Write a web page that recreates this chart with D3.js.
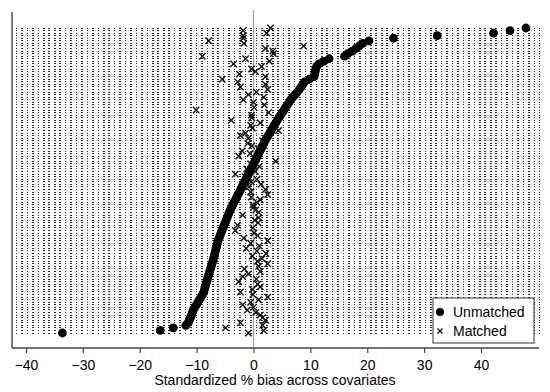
<!DOCTYPE html>
<html>
<head>
<meta charset="utf-8">
<script src="https://cdn.jsdelivr.net/npm/d3@7"></script>
<style>
  body { margin: 0; background: #fff; }
  svg { display: block; font-family: "Liberation Sans", Arial, sans-serif; }
</style>
</head>
<body>
<svg id="chart" width="550" height="392"></svg>
<script>
// standardized % bias per covariate, covariates sorted by unmatched bias (bottom -> top)
const unmatched = [
  -33.6, -16.4, -14.1, -11.9, -11.5, -11.3, -11.08, -10.9, -10.75, -10.6,
  -10.32, -10.05, -9.77, -9.51, -9.23, -8.96, -8.75, -8.62, -8.5, -8.37,
  -8.24, -8.11, -7.98, -7.84, -7.71, -7.57, -7.44, -7.3, -7.16, -7.04,
  -6.92, -6.81, -6.7, -6.58, -6.46, -6.35, -6.23, -6.07, -5.89, -5.71,
  -5.54, -5.35, -5.18, -5.0, -4.81, -4.64, -4.46, -4.28, -4.1, -3.87,
  -3.64, -3.41, -3.17, -2.95, -2.71, -2.48, -2.26, -2.02, -1.79, -1.56,
  -1.33, -1.11, -0.88, -0.66, -0.44, -0.21, 0.02, 0.24, 0.46, 0.69,
  0.91, 1.14, 1.37, 1.59, 1.81, 2.03, 2.29, 2.56, 2.83, 3.1,
  3.37, 3.63, 3.91, 4.17, 4.46, 4.76, 5.05, 5.35, 5.64, 5.94,
  6.24, 6.53, 6.92, 7.31, 7.69, 8.06, 8.37, 8.67, 8.98, 9.8,
  10.65, 10.75, 10.85, 10.93, 11.1, 11.5, 12.3, 13.3, 16.0, 16.6,
  17.4, 18.0, 18.6, 19.2, 20.3, 24.6, 32.3, 42.2, 45.1, 47.9
];
const matched = [
  -0.9, 1.8, -4.9, 1.6, -2.3, 2.1, 1.6, 1.2, 0.4, -1.1,
  0.0, -1.9, -0.5, 0.9, 2.5, -0.1, -2.3, -0.2, 1.2, 0.7,
  -2.6, 0.5, -1.9, -0.9, 1.2, -1.6, 0.9, 2.5, 0.7, 1.5,
  -0.2, 2.2, 0.6, -1.3, 1.0, -0.5, 2.5, -1.7, 0.7, 0.1,
  -3.2, -0.1, -2.8, 0.8, 0.2, 0.9, -1.9, 0.9, 0.4, 0.0,
  -0.1, 0.6, 1.2, -0.4, 2.5, -0.5, 2.1, -0.8, 1.3, -0.4,
  0.6, -1.5, -3.2, 0.3, -1.2, 1.0, -0.5, 3.9, 0.5, -2.6,
  -0.6, -2.0, 0.8, -0.3, -1.0, 1.6, -0.9, -2.3, -1.4, 4.4,
  -0.2, -0.5, 1.2, -3.9, -0.3, -0.35, 2.65, -10.1, 0.1, 1.9,
  0.0, -1.8, 1.8, -0.9, 0.5, 2.5, -2.3, 2.1, -2.8, -5.5,
  2.1, -2.5, 0.35, -0.35, 1.4, -3.5, 2.8, -1.4, -9.0, 3.5,
  3.4, 2.1, 8.8, -1.7, -7.9, -1.8, -1.8, 2.3, -1.8, 3.0
];
const xTicks = [-40, -30, -20, -10, 0, 10, 20, 30, 40];
const xTitle = "Standardized % bias across covariates";
const legendLabels = ["Unmatched", "Matched"];

const svg = d3.select("#chart");
svg.append("rect").attr("width", 550).attr("height", 392).attr("fill", "#fff");

const x = d3.scaleLinear().domain([-40, 40]).range([26, 481]);
const xMin = -42.45, xMax = 50.2;      // plot region edges
const lineMin = -41.8, lineMax = 50.4; // dotted guide extent
const y = d3.scaleLinear().domain([0, unmatched.length - 1]).range([333, 28]);
const plotTop = 12, axisY = 348;

// dotted guide line per covariate
svg.append("g")
  .selectAll("line")
  .data(unmatched)
  .join("line")
  .attr("x1", x(lineMin))
  .attr("x2", x(lineMax))
  .attr("y1", (d, i) => y(i))
  .attr("y2", (d, i) => y(i))
  .attr("stroke", "#2a2a2a")
  .attr("stroke-width", 1)
  .attr("stroke-dasharray", "1.6,3.85")
  .attr("shape-rendering", "crispEdges");

// zero reference line
svg.append("line")
  .attr("x1", x(0)).attr("x2", x(0))
  .attr("y1", plotTop - 2).attr("y2", axisY)
  .attr("stroke", "#a0a0a0")
  .attr("stroke-width", 1.2);

// unmatched
svg.append("g")
  .selectAll("circle")
  .data(unmatched)
  .join("circle")
  .attr("cx", d => x(d))
  .attr("cy", (d, i) => y(i))
  .attr("r", 4.4)
  .attr("fill", "#000");

// matched
const cross = "M-3.2,-3.2L3.2,3.2M-3.2,3.2L3.2,-3.2";
svg.append("g")
  .selectAll("path")
  .data(matched)
  .join("path")
  .attr("transform", (d, i) => `translate(${x(d)},${y(i)})`)
  .attr("d", cross)
  .attr("stroke", "#111")
  .attr("stroke-width", 1.4)
  .attr("fill", "none");

// axes
svg.append("line")
  .attr("x1", x(xMin)).attr("x2", x(xMin))
  .attr("y1", plotTop).attr("y2", axisY)
  .attr("stroke", "#444").attr("stroke-width", 1.4);

const xAxis = svg.append("g")
  .attr("transform", `translate(0,${axisY})`)
  .call(d3.axisBottom(x).tickValues(xTicks).tickSize(5).tickPadding(7)
    .tickFormat(d => d < 0 ? "\u2212" + Math.abs(d) : d));
xAxis.select(".domain").remove();
xAxis.append("line")
  .attr("x1", x(xMin)).attr("x2", x(xMax))
  .attr("stroke", "#444").attr("stroke-width", 1.4);
xAxis.selectAll(".tick line").attr("stroke", "#444").attr("stroke-width", 1.2);
xAxis.selectAll(".tick text")
  .attr("fill", "#000")
  .attr("font-size", 14)
  .attr("font-family", "Liberation Sans, Arial, sans-serif");

svg.append("text")
  .attr("x", 275)
  .attr("y", 385)
  .attr("text-anchor", "middle")
  .attr("font-size", 14)
  .attr("fill", "#000")
  .text(xTitle);

// legend
const lg = svg.append("g").attr("transform", "translate(433,298)");
lg.append("rect")
  .attr("width", 101).attr("height", 45)
  .attr("fill", "#fff").attr("stroke", "#333").attr("stroke-width", 1);
lg.append("circle").attr("cx", 7).attr("cy", 14).attr("r", 4).attr("fill", "#000");
lg.append("path").attr("transform", "translate(7,33)")
  .attr("d", "M-2.5,-2.5L2.5,2.5M-2.5,2.5L2.5,-2.5")
  .attr("stroke", "#111").attr("stroke-width", 1.3);
lg.selectAll("text.lab")
  .data(legendLabels)
  .join("text")
  .attr("class", "lab")
  .attr("x", 20)
  .attr("y", (d, i) => 19 + i * 19)
  .attr("font-size", 14)
  .attr("fill", "#000")
  .text(d => d);
</script>
</body>
</html>
